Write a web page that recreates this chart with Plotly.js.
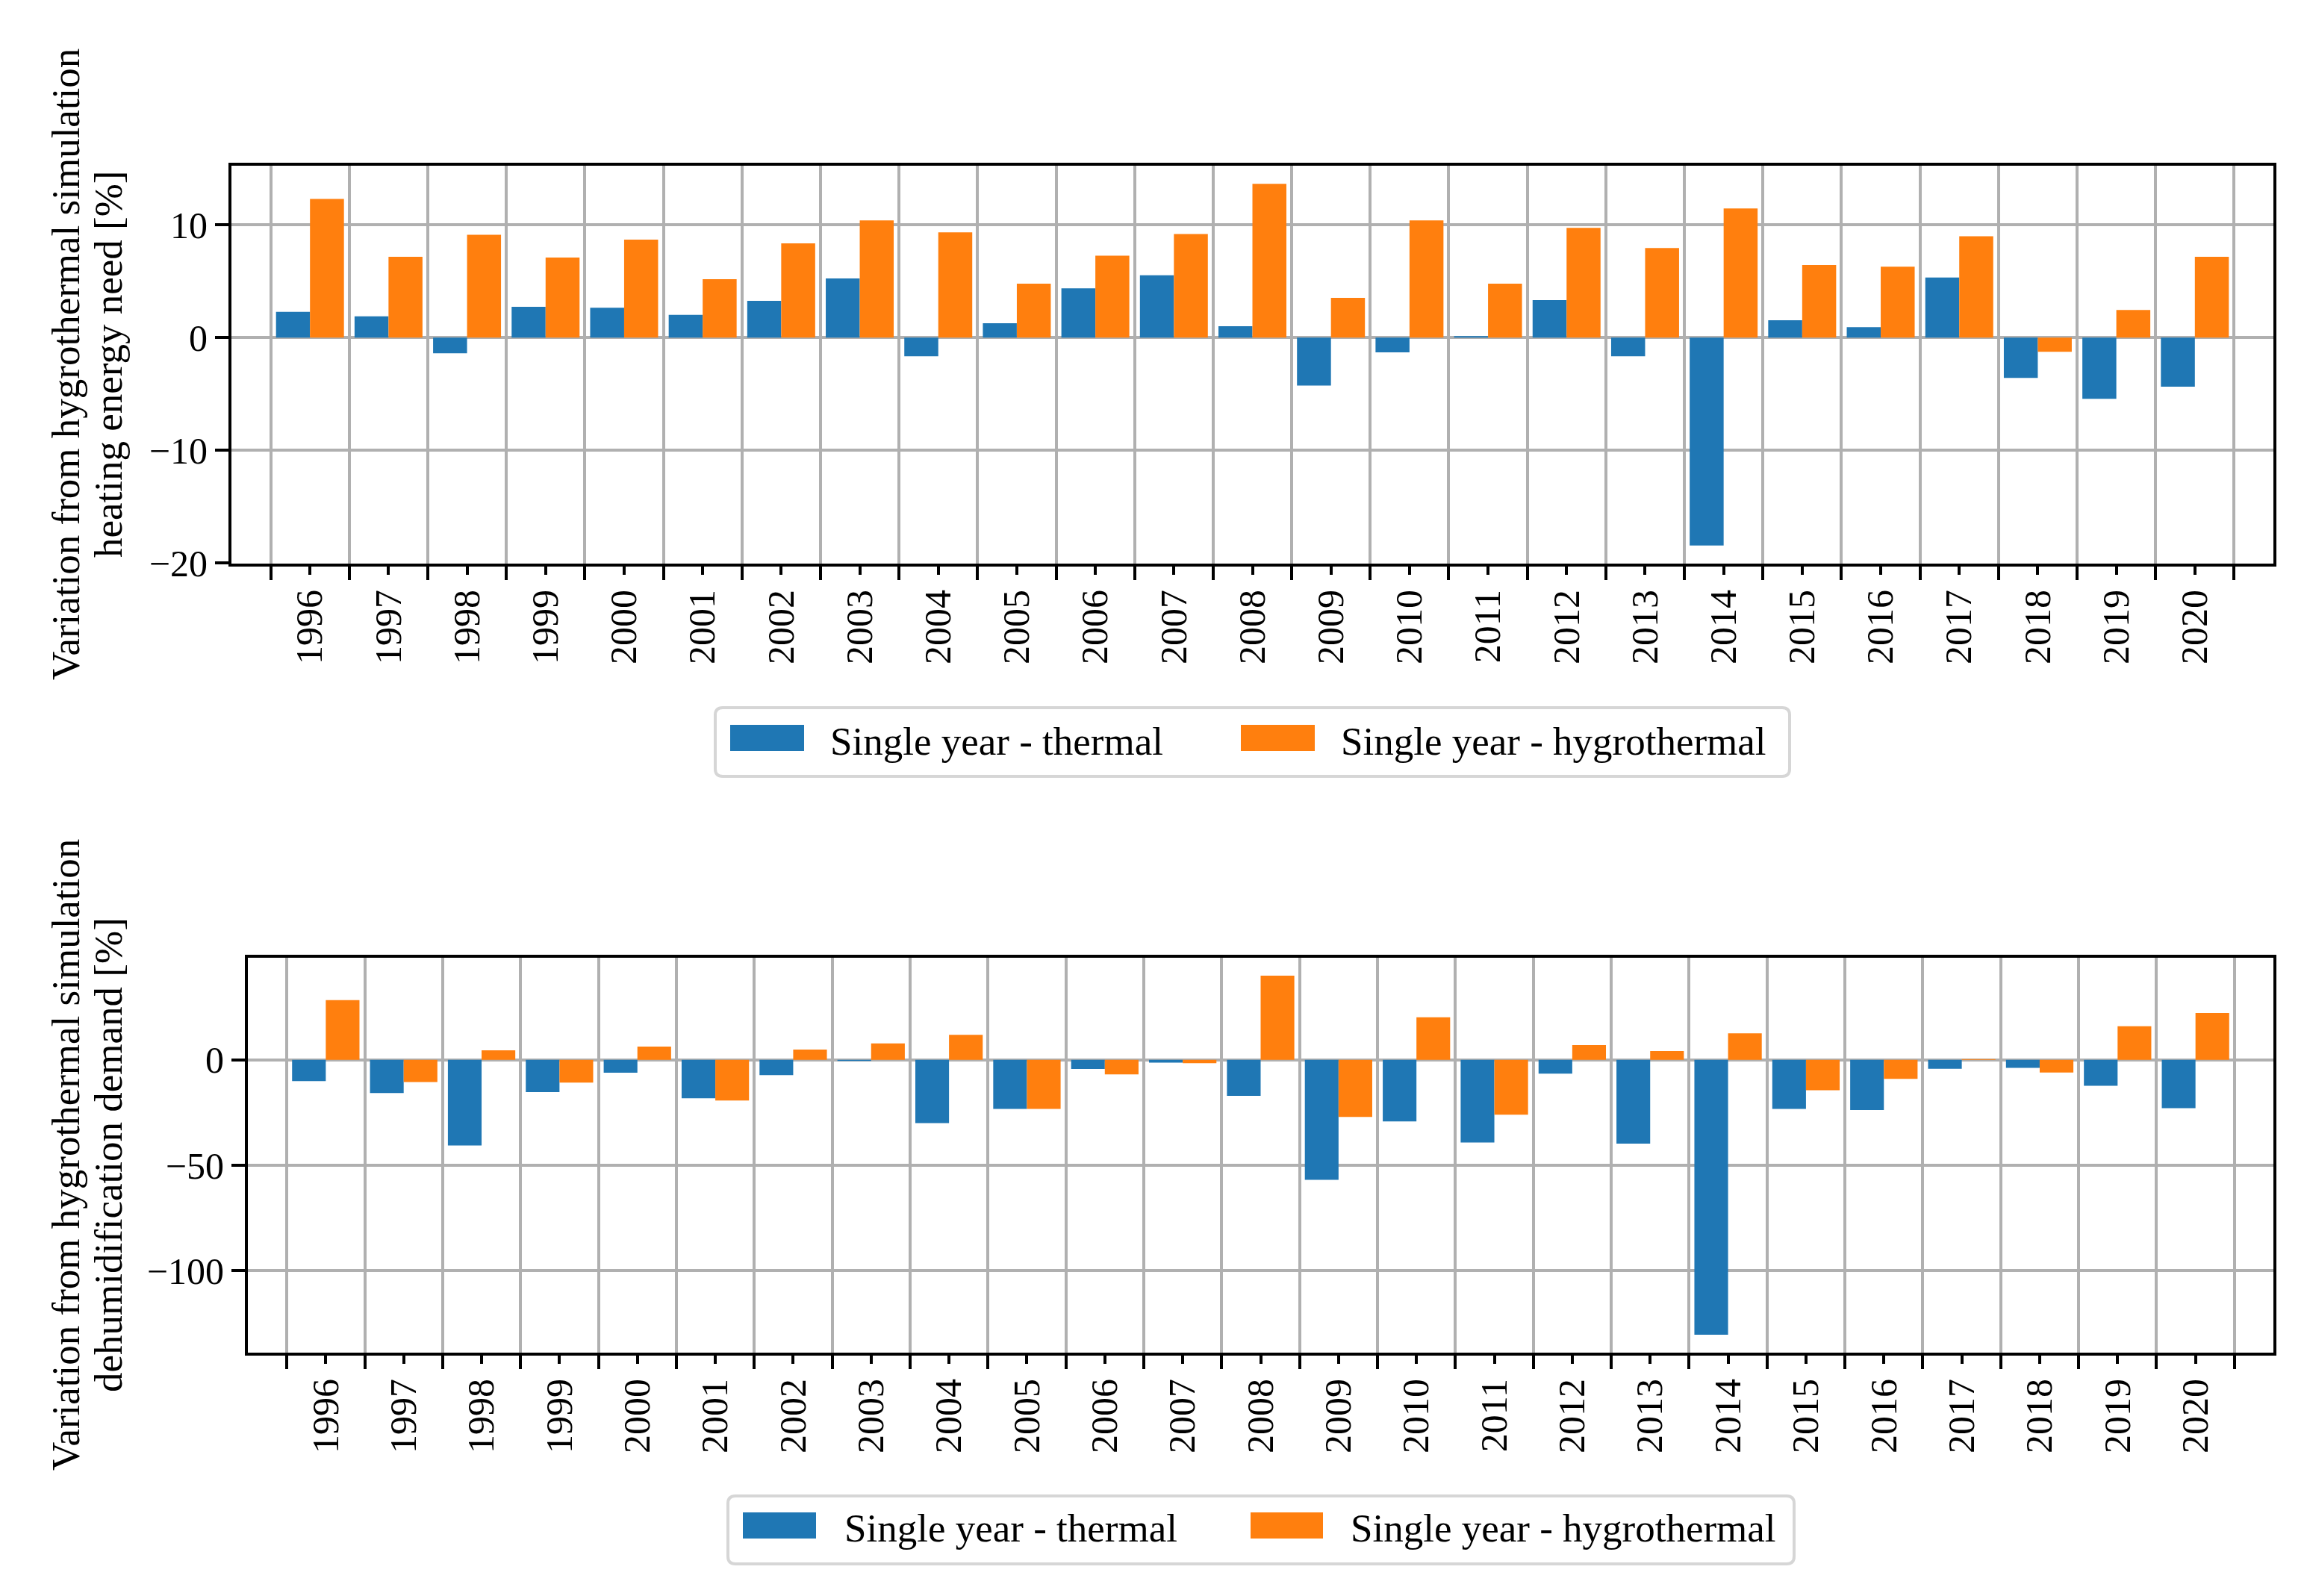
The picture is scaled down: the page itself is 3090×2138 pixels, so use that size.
<!DOCTYPE html>
<html>
<head>
<meta charset="utf-8">
<script src="https://cdn.plot.ly/plotly-3.0.1.min.js"></script>
<style>html,body{margin:0;padding:0;background:#fff;}#chart{width:3090px;height:2138px;}</style>
</head>
<body>
<div id="chart"></div>
<script>
const years = [1996,1997,1998,1999,2000,2001,2002,2003,2004,2005,2006,2007,2008,2009,2010,2011,2012,2013,2014,2015,2016,2017,2018,2019,2020];
const yearLabels = years.map(String);
const seriesNames = ['Single year - thermal', 'Single year - hygrothermal'];
const heatThermal = [2.29,1.89,-1.38,2.73,2.66,2.02,3.27,5.26,-1.65,1.28,4.38,5.53,1.01,-4.25,-1.31,0.13,3.34,-1.65,-18.44,1.55,0.94,5.33,-3.57,-5.43,-4.35];
const heatHygro = [12.3,7.18,9.13,7.11,8.70,5.19,8.36,10.41,9.34,4.79,7.28,9.20,13.65,3.54,10.41,4.79,9.74,7.95,11.46,6.44,6.30,9.0,-1.25,2.46,7.18];
const dehumThermal = [-10.1,-15.7,-40.6,-15.3,-6.1,-18.2,-7.2,-0.5,-30.0,-23.3,-4.3,-1.3,-17.1,-56.9,-29.2,-39.2,-6.5,-39.7,-130.3,-23.3,-23.8,-4.2,-3.8,-12.3,-22.9];
const dehumHygro = [28.3,-10.5,4.5,-10.8,6.3,-19.3,4.9,7.8,11.9,-23.3,-6.9,-1.6,39.9,-27.1,20.2,-26.0,7.0,4.2,12.6,-14.4,-9.0,0.4,-6.0,15.9,22.2];
const yTitleTop = ['Variation from hygrothermal simulation', 'heating energy need [%]'];
const yTitleBottom = ['Variation from hygrothermal simulation', 'dehumidification demand [%]'];

const W = 3090, H = 2138;
const BLUE = '#1f77b4', ORANGE = '#ff7f0e', GRID = '#b0b0b0';
const FONT = 'Liberation Serif, Times New Roman, serif';
const px = x => x / W;
const py = y => 1 - y / H;

function autoRange(a, b) {
  const all = a.concat(b);
  const mn = Math.min(0, ...all), mx = Math.max(0, ...all);
  const m = 0.05 * (mx - mn);
  return [mn - m, mx + m];
}

const traces = [
  {type: 'bar', x: years, y: heatThermal, name: seriesNames[0], marker: {color: BLUE, line: {width: 0}}, xaxis: 'x', yaxis: 'y', showlegend: false},
  {type: 'bar', x: years, y: heatHygro, name: seriesNames[1], marker: {color: ORANGE, line: {width: 0}}, xaxis: 'x', yaxis: 'y', showlegend: false},
  {type: 'bar', x: years, y: dehumThermal, name: seriesNames[0], marker: {color: BLUE, line: {width: 0}}, xaxis: 'x2', yaxis: 'y2', showlegend: false},
  {type: 'bar', x: years, y: dehumHygro, name: seriesNames[1], marker: {color: ORANGE, line: {width: 0}}, xaxis: 'x2', yaxis: 'y2', showlegend: false}
];

function xAxis(domain, anchor) {
  return {
    domain: domain, anchor: anchor, type: 'linear', range: [years[0] - 1, years[years.length - 1] + 1],
    tickmode: 'array', tickvals: years, ticktext: yearLabels, tickangle: -90,
    ticks: 'outside', ticklen: 11, tickwidth: 4, tickcolor: '#000',
    showgrid: false, zeroline: false,
    showline: true, mirror: true, linecolor: '#000', linewidth: 4,
    tickfont: {family: FONT, size: 50, color: '#000'},
    minor: {tick0: years[0] - 0.5, dtick: 1, ticks: 'outside', ticklen: 18, tickwidth: 4, tickcolor: '#000',
            showgrid: true, gridcolor: GRID, gridwidth: 4},
    fixedrange: true
  };
}
function yAxis(domain, anchor, range, dtick) {
  return {
    domain: domain, anchor: anchor, range: range, dtick: dtick, tick0: 0,
    ticks: 'outside', ticklen: 18, tickwidth: 4, tickcolor: '#000',
    showgrid: true, gridcolor: GRID, gridwidth: 4, zeroline: false,
    showline: true, mirror: true, linecolor: '#000', linewidth: 4,
    tickfont: {family: FONT, size: 50, color: '#000'},
    fixedrange: true
  };
}

function roundRect(x0, y0, x1, y1, r, color) {
  const X0 = px(x0), X1 = px(x1), Y0 = py(y0), Y1 = py(y1);
  const rx = r / W, ry = r / H;
  const path = `M${X0 + rx},${Y0} L${X1 - rx},${Y0} Q${X1},${Y0} ${X1},${Y0 - ry} L${X1},${Y1 + ry} Q${X1},${Y1} ${X1 - rx},${Y1} L${X0 + rx},${Y1} Q${X0},${Y1} ${X0},${Y1 + ry} L${X0},${Y0 - ry} Q${X0},${Y0} ${X0 + rx},${Y0} Z`;
  return {type: 'path', xref: 'paper', yref: 'paper', path: path, fillcolor: '#ffffff', line: {color: color, width: 4}, layer: 'above'};
}
function patch(x0, y0, x1, y1, color) {
  return {type: 'rect', xref: 'paper', yref: 'paper', x0: px(x0), x1: px(x1), y0: py(y1), y1: py(y0), fillcolor: color, line: {width: 0}, layer: 'above'};
}
function label(x, y, text) {
  return {xref: 'paper', yref: 'paper', x: px(x), y: py(y), xanchor: 'left', yanchor: 'middle', text: text, showarrow: false,
          font: {family: FONT, size: 53, color: '#000'}};
}
function vTitle(x, y, text) {
  return {xref: 'paper', yref: 'paper', x: px(x), y: py(y), xanchor: 'center', yanchor: 'middle', textangle: -90, text: text,
          showarrow: false, font: {family: FONT, size: 53, color: '#000'}};
}

const shapes = [
  roundRect(958, 948, 2397, 1040, 10, '#d6d6d6'),
  patch(978, 971, 1077, 1006, BLUE),
  patch(1662, 971, 1761, 1006, ORANGE),
  roundRect(975, 2004, 2403, 2095, 10, '#d6d6d6'),
  patch(995, 2026, 1093, 2061, BLUE),
  patch(1675, 2026, 1772, 2061, ORANGE)
];
const annotations = [
  label(1110, 993, seriesNames[0]),
  label(1794, 993, seriesNames[1]),
  label(1129, 2047, seriesNames[0]),
  label(1807, 2047, seriesNames[1]),
  vTitle(88, 488, yTitleTop[0]),
  vTitle(145, 488, yTitleTop[1]),
  vTitle(88, 1547, yTitleBottom[0]),
  vTitle(145, 1547, yTitleBottom[1])
];

const layout = {
  width: W, height: H,
  margin: {l: 0, r: 0, t: 0, b: 0, pad: 0},
  paper_bgcolor: '#fff', plot_bgcolor: '#fff',
  barmode: 'group', bargap: 0.135, bargroupgap: 0,
  showlegend: false,
  font: {family: FONT, size: 50, color: '#000'},
  xaxis: xAxis([px(310), px(3045)], 'y'),
  yaxis: yAxis([py(755), py(222)], 'x', autoRange(heatThermal, heatHygro), 10),
  xaxis2: xAxis([px(332), px(3045)], 'y2'),
  yaxis2: yAxis([py(1812), py(1283)], 'x2', autoRange(dehumThermal, dehumHygro), 50),
  shapes: shapes,
  annotations: annotations
};

Plotly.newPlot('chart', traces, layout, {staticPlot: true, displayModeBar: false});
</script>
</body>
</html>
